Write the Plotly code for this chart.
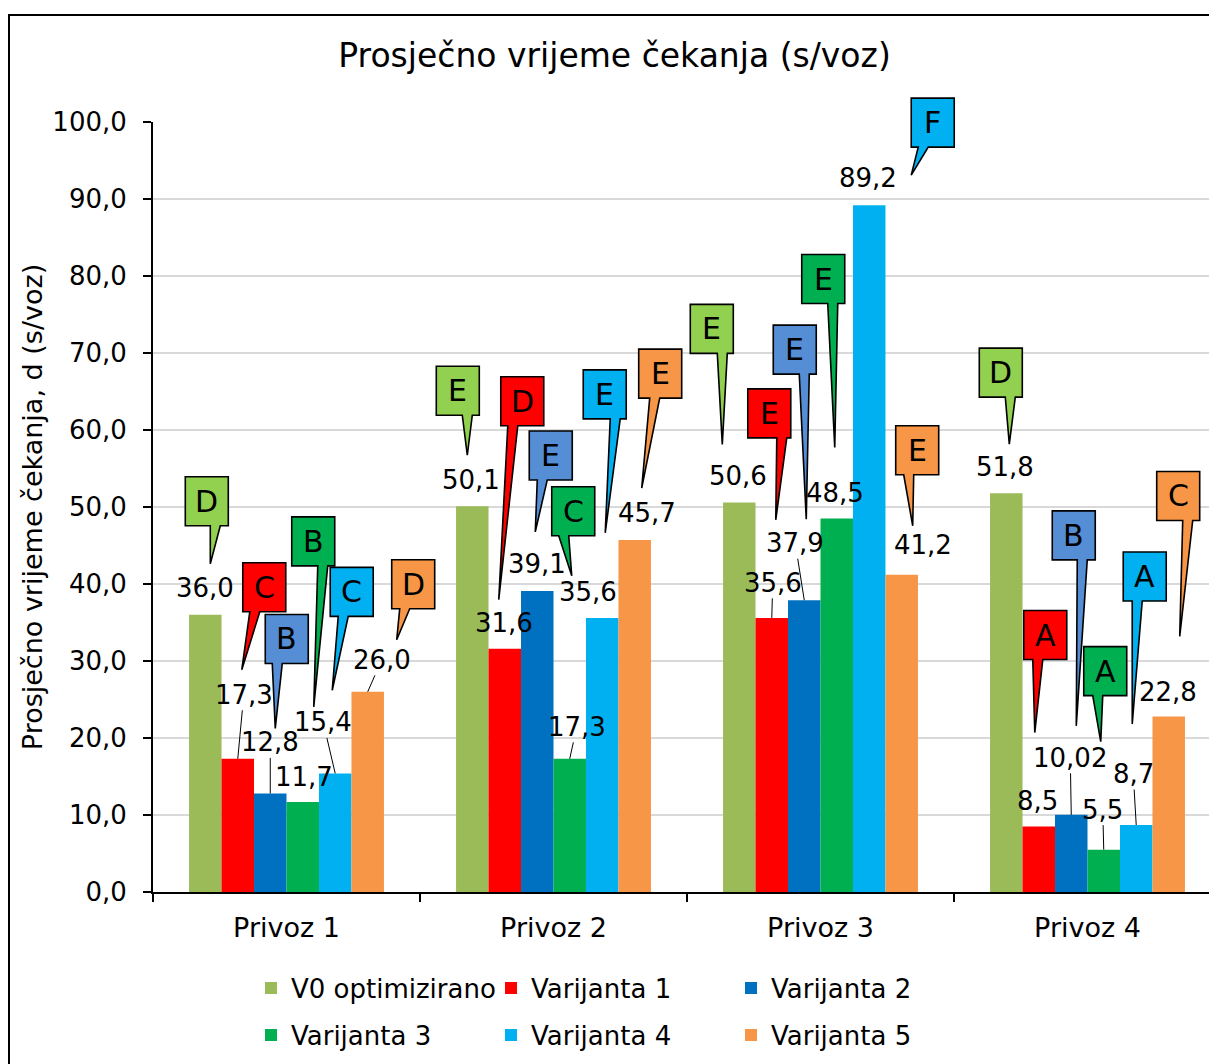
import plotly.graph_objects as go

# ---- data -------------------------------------------------------------
categories = ["Privoz 1", "Privoz 2", "Privoz 3", "Privoz 4"]
series_names = ["V0 optimizirano", "Varijanta 1", "Varijanta 2",
                "Varijanta 3", "Varijanta 4", "Varijanta 5"]

v0_optimizirano = [36.0, 50.1, 50.6, 51.8]
varijanta_1 = [17.3, 31.6, 35.6, 8.5]
varijanta_2 = [12.8, 39.1, 37.9, 10.02]
varijanta_3 = [11.7, 17.3, 48.5, 5.5]
varijanta_4 = [15.4, 35.6, 89.2, 8.7]
varijanta_5 = [26.0, 45.7, 41.2, 22.8]

# level of service (LOS) for every bar
los_v0 = ["D", "E", "E", "D"]
los_var1 = ["C", "D", "E", "A"]
los_var2 = ["B", "E", "E", "B"]
los_var3 = ["B", "C", "E", "A"]
los_var4 = ["C", "E", "F", "A"]
los_var5 = ["D", "E", "E", "C"]

y_tick_values = [0, 10, 20, 30, 40, 50, 60, 70, 80, 90, 100]

series_values = [v0_optimizirano, varijanta_1, varijanta_2,
                 varijanta_3, varijanta_4, varijanta_5]
series_los = [los_v0, los_var1, los_var2, los_var3, los_var4, los_var5]

# ---- styling ----------------------------------------------------------
FONT = "DejaVu Sans"
bar_colors = ["#9BBB59", "#FF0000", "#0070C0", "#00B050", "#00B0F0", "#F79646"]
callout_colors = ["#92D050", "#FF0000", "#558ED5", "#00B050", "#00B0F0", "#F79646"]

W, H = 1209, 1064
M_L, M_R, M_T, M_B = 153, 0, 122, 172
PLOT_W = W - M_L - M_R
PLOT_H = H - M_T - M_B
CAT_PX = 267.0  # width of one category slot in pixels
BARGAP = 0.27
N_SER = len(series_names)
Y_MIN, Y_MAX = 0, 100

# value-label placement per series/category: (dx px, lift px, leader line)
label_place = [
    [(0, 27, False), (-1, 26, False), (-1, 26, False), (-1, 26, False)],
    [(6, 64, True), (-1, 26, False), (1, 35, True), (-1, 26, False)],
    [(0, 51, True), (0, 27, False), (-9, 57, True), (-1, 57, True)],
    [(1, 25, False), (7, 32, True), (-2, 26, False), (-1, 40, True)],
    [(-12, 51, True), (-14, 26, False), (-1, 27, False), (-3, 51, True)],
    [(14, 32, True), (12, 27, False), (21, 30, False), (-1, 24, False)],
]

# callout placement relative to bar top (screen px, y down):
# (box left, box top, wedge base left, tip x, tip y)
callout_place = [
    [(-20, -138, 5, 5, -51), (-36, -140, -10, -5, -51),
     (-49, -198, -22, -17, -58), (-27, -145, -1, 3, -49)],
    [(5, -196, 12, 4, -89), (-4, -272, 3, -6, -49),
     (-24, -229, 5, 4, -98), (-15, -216, -6, -4, -94)],
    [(-5, -179, 2, 5, -65), (-8, -160, 0, -2, -59),
     (-31, -275, -5, 2, -81), (-19, -304, 6, 5, -89)],
    [(-11, -285, 15, 11, -95), (-18, -272, -11, 2, -183),
     (-35, -264, -9, -2, -71), (-20, -203, -11, -3, -108)],
    [(-5, -206, 3, -3, -83), (-19, -248, 8, 3, -85),
     (42, -107, 49, 42, -30), (-13, -273, -4, -4, -101)],
    [(24, -132, 32, 29, -52), (4, -191, 15, 7, -52),
     (-6, -149, 2, 11, -49), (-12, -245, 14, 11, -80)],
]
BOX_W, BOX_H, WEDGE_W = 43, 49, 10


def fmt(v):
    s = f"{v:.2f}"
    if s.endswith("0"):
        s = s[:-1]
    return s.replace(".", ",")


def bar_center(cat_idx, ser_idx):
    group = 1.0 - BARGAP
    return cat_idx - group / 2 + (ser_idx + 0.5) * group / N_SER


def value_to_paper(v):
    return (v - Y_MIN) / (Y_MAX - Y_MIN)


def px_x(px):
    return (px - M_L) / PLOT_W


def px_y(py):
    return (H - M_B - py) / PLOT_H


fig = go.Figure()
for s, name in enumerate(series_names):
    legend_id = "legend" if s < 3 else "legend2"
    fig.add_trace(go.Bar(
        x=list(range(len(categories))), y=series_values[s], name=name,
        marker=dict(color=bar_colors[s], line=dict(width=0)),
        legend=legend_id, hoverinfo="skip",
    ))

annotations = []
shapes = []
for s in range(N_SER):
    for c in range(len(categories)):
        val = series_values[s][c]
        xc = bar_center(c, s)
        dx, lift, leader = label_place[s][c]
        if leader:
            annotations.append(dict(
                x=xc, y=val, xref="x", yref="y", text=fmt(val),
                showarrow=True, ax=dx, ay=-lift, arrowhead=0, arrowwidth=1,
                arrowcolor="black", standoff=0, borderpad=0,
                font=dict(family=FONT, size=26, color="black")))
        else:
            annotations.append(dict(
                x=xc, y=val, xref="x", yref="y", text=fmt(val),
                showarrow=False, xshift=dx, yshift=lift,
                font=dict(family=FONT, size=26, color="black")))

        # LOS callout: box with a wedge pointing toward the value label
        bl, bt, wl, tx, ty = callout_place[s][c]
        br, bb = bl + BOX_W, bt + BOX_H
        path = (f"M{bl},{-bt} L{br},{-bt} L{br},{-bb} L{wl + WEDGE_W},{-bb} "
                f"L{tx},{-ty} L{wl},{-bb} L{bl},{-bb} Z")
        shapes.append(dict(
            type="path", xref="x", yref="paper", xsizemode="pixel",
            ysizemode="pixel", xanchor=xc, yanchor=value_to_paper(val),
            path=path, fillcolor=callout_colors[s],
            line=dict(color="black", width=1.6), layer="above"))
        annotations.append(dict(
            x=xc, y=val, xref="x", yref="y", text=series_los[s][c],
            showarrow=False, xshift=bl + BOX_W / 2, yshift=-(bt + BOX_H / 2),
            font=dict(family=FONT, size=30, color="black")))

# outer chart frame
shapes.append(dict(type="rect", xref="paper", yref="paper",
                   x0=px_x(9), x1=px_x(W + 30), y0=px_y(H + 30), y1=px_y(15),
                   line=dict(color="black", width=2), fillcolor="rgba(0,0,0,0)",
                   layer="below"))

x_end = -0.5 + PLOT_W / CAT_PX

legend_style = dict(orientation="h", x=px_x(251), xanchor="left",
                    yanchor="middle", entrywidth=195, entrywidthmode="pixels",
                    font=dict(family=FONT, size=26, color="black"),
                    bgcolor="rgba(0,0,0,0)")

fig.update_layout(
    width=W, height=H,
    margin=dict(l=M_L, r=M_R, t=M_T, b=M_B, autoexpand=False),
    paper_bgcolor="white", plot_bgcolor="white",
    separators=",.",
    font=dict(family=FONT, size=26, color="black"),
    title=dict(text="Prosječno vrijeme čekanja (s/voz)", x=614.5 / W,
               xanchor="center", y=1 - 55 / H, yanchor="middle",
               font=dict(family=FONT, size=33, color="black")),
    barmode="group", bargap=BARGAP, bargroupgap=0,
    xaxis=dict(type="category", range=[-0.5, x_end],
               tickvals=list(range(len(categories))), ticktext=categories,
               tickson="boundaries", ticks="outside", ticklen=8, tickwidth=2,
               tickcolor="black", showline=True, linecolor="black", linewidth=2,
               showgrid=False, zeroline=False, ticklabelstandoff=11,
               tickfont=dict(family=FONT, size=27, color="black")),
    yaxis=dict(range=[Y_MIN, Y_MAX], tickvals=y_tick_values, tickformat=".1f",
               ticks="outside", ticklen=8, tickwidth=2, tickcolor="black",
               showline=True, linecolor="black", linewidth=2,
               showgrid=True, gridcolor="#D9D9D9", gridwidth=1.5, zeroline=False,
               ticklabelstandoff=11,
               tickfont=dict(family=FONT, size=26, color="black"),
               title=dict(text="Prosječno vrijeme čekanja, d (s/voz)", standoff=2,
                          font=dict(family=FONT, size=27, color="black"))),
    legend=dict(y=px_y(988), **legend_style),
    legend2=dict(y=px_y(1035), **legend_style),
    annotations=annotations,
    shapes=shapes,
)

fig.write_html("out.html")
